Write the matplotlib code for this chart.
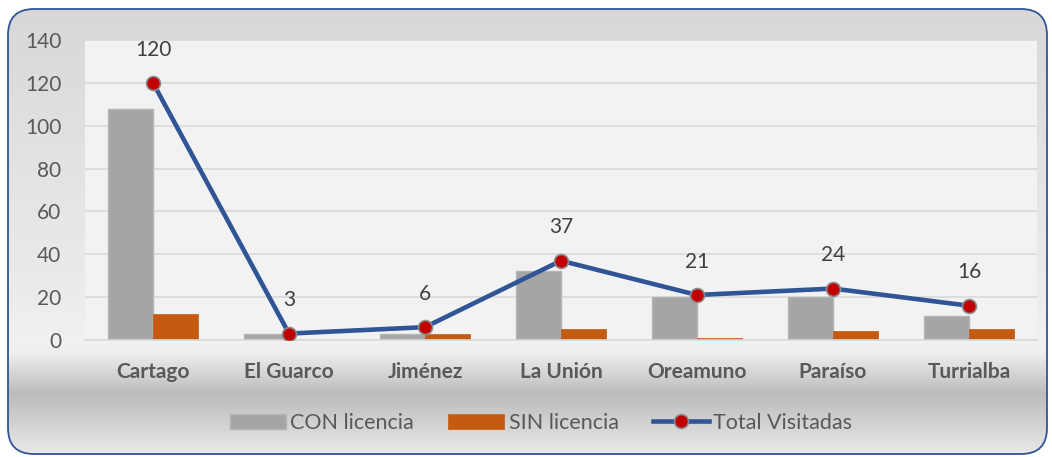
import numpy as np
import matplotlib
matplotlib.use("Agg")
import matplotlib.pyplot as plt
from matplotlib.patches import FancyBboxPatch

# datos por cantón
cantones = ["Cartago", "El Guarco", "Jiménez", "La Unión", "Oreamuno", "Paraíso", "Turrialba"]
con_licencia = [108, 3, 3, 32, 20, 20, 11]
sin_licencia = [12, 0, 3, 5, 1, 4, 5]
total_visitadas = [120, 3, 6, 37, 21, 24, 16]
yticks = [0, 20, 40, 60, 80, 100, 120, 140]

plt.rcParams['font.family'] = ['Lato', 'DejaVu Sans']

W, H = 1052, 457
fig = plt.figure(figsize=(W / 100, H / 100), dpi=100)
fig.patch.set_facecolor('white')

# fondo con degradado y borde redondeado
bg = fig.add_axes([0, 0, 1, 1])
bg.set_xlim(0, W)
bg.set_ylim(H, 0)
bg.axis('off')
ys = np.arange(H)
stops_y = [0, 40, 300, 342, 352, 395, 457]
stops_v = [0.85, 0.86, 0.93, 0.95, 0.94, 0.74, 0.92]
g = np.interp(ys, stops_y, stops_v)
img = np.stack([g, g * 0.995, g * 0.995], axis=-1)[:, None, :].repeat(2, axis=1)
frame = FancyBboxPatch((8, 9), 1039, 445, boxstyle="round,pad=0,rounding_size=26",
                       facecolor='none', edgecolor='#2F5597', linewidth=1.3, zorder=3)
im = bg.imshow(img, extent=(8, 1047, 454, 9), aspect='auto', interpolation='bilinear', zorder=1)
bg.add_patch(frame)
im.set_clip_path(frame)

ax = fig.add_axes([85 / W, 117 / H, (1037 - 85) / W, 300 / H])
ax.set_facecolor('#f2f2f2')
x = np.arange(len(cantones))
w = 0.33
b1 = ax.bar(x - w / 2, con_licencia, w, color='#A5A5A5', edgecolor='#b5b5b5', linewidth=1,
            label='CON licencia', zorder=2)
b2 = ax.bar(x + w / 2, sin_licencia, w, color='#C55A11', edgecolor='#C55A11', linewidth=0.5,
            label='SIN licencia', zorder=2)
ln, = ax.plot(x, total_visitadas, color='#2F5597', linewidth=3.3, marker='o', markersize=10,
              markerfacecolor='#C00000', markeredgecolor='#8c8c8c', markeredgewidth=1.2,
              label='Total Visitadas', zorder=3)

for xi, v in zip(x, total_visitadas):
    ax.annotate(str(v), (xi, v), xytext=(0, 24), textcoords='offset points',
                ha='center', va='center', fontsize=15, color='#404040')

ax.set_xlim(-0.5, len(cantones) - 0.5)
ax.set_ylim(0, 140)
ax.set_yticks(yticks)
ax.set_xticks(x)
ax.set_xticklabels(cantones, fontweight='bold')
ax.tick_params(axis='y', length=0, pad=17, labelsize=15, labelcolor='#595959')
ax.tick_params(axis='x', length=0, pad=16, labelsize=15, labelcolor='#595959')
ax.grid(axis='y', color='#d9d9d9', linewidth=1.2, zorder=0)
ax.set_axisbelow(True)
for s in ['top', 'left', 'right']:
    ax.spines[s].set_visible(False)
ax.spines['bottom'].set_color('#d9d9d9')
ax.spines['bottom'].set_linewidth(1.2)

leg = fig.legend([b1, b2, ln], ['CON licencia', 'SIN licencia', 'Total Visitadas'],
                 loc='center', bbox_to_anchor=(541 / W, 1 - 423 / H), ncol=3, frameon=False,
                 fontsize=15.5, handlelength=2.6, handletextpad=0.2, columnspacing=1.6)
for t in leg.get_texts():
    t.set_color('#595959')

fig.savefig('out.png', dpi=100, facecolor='white')
